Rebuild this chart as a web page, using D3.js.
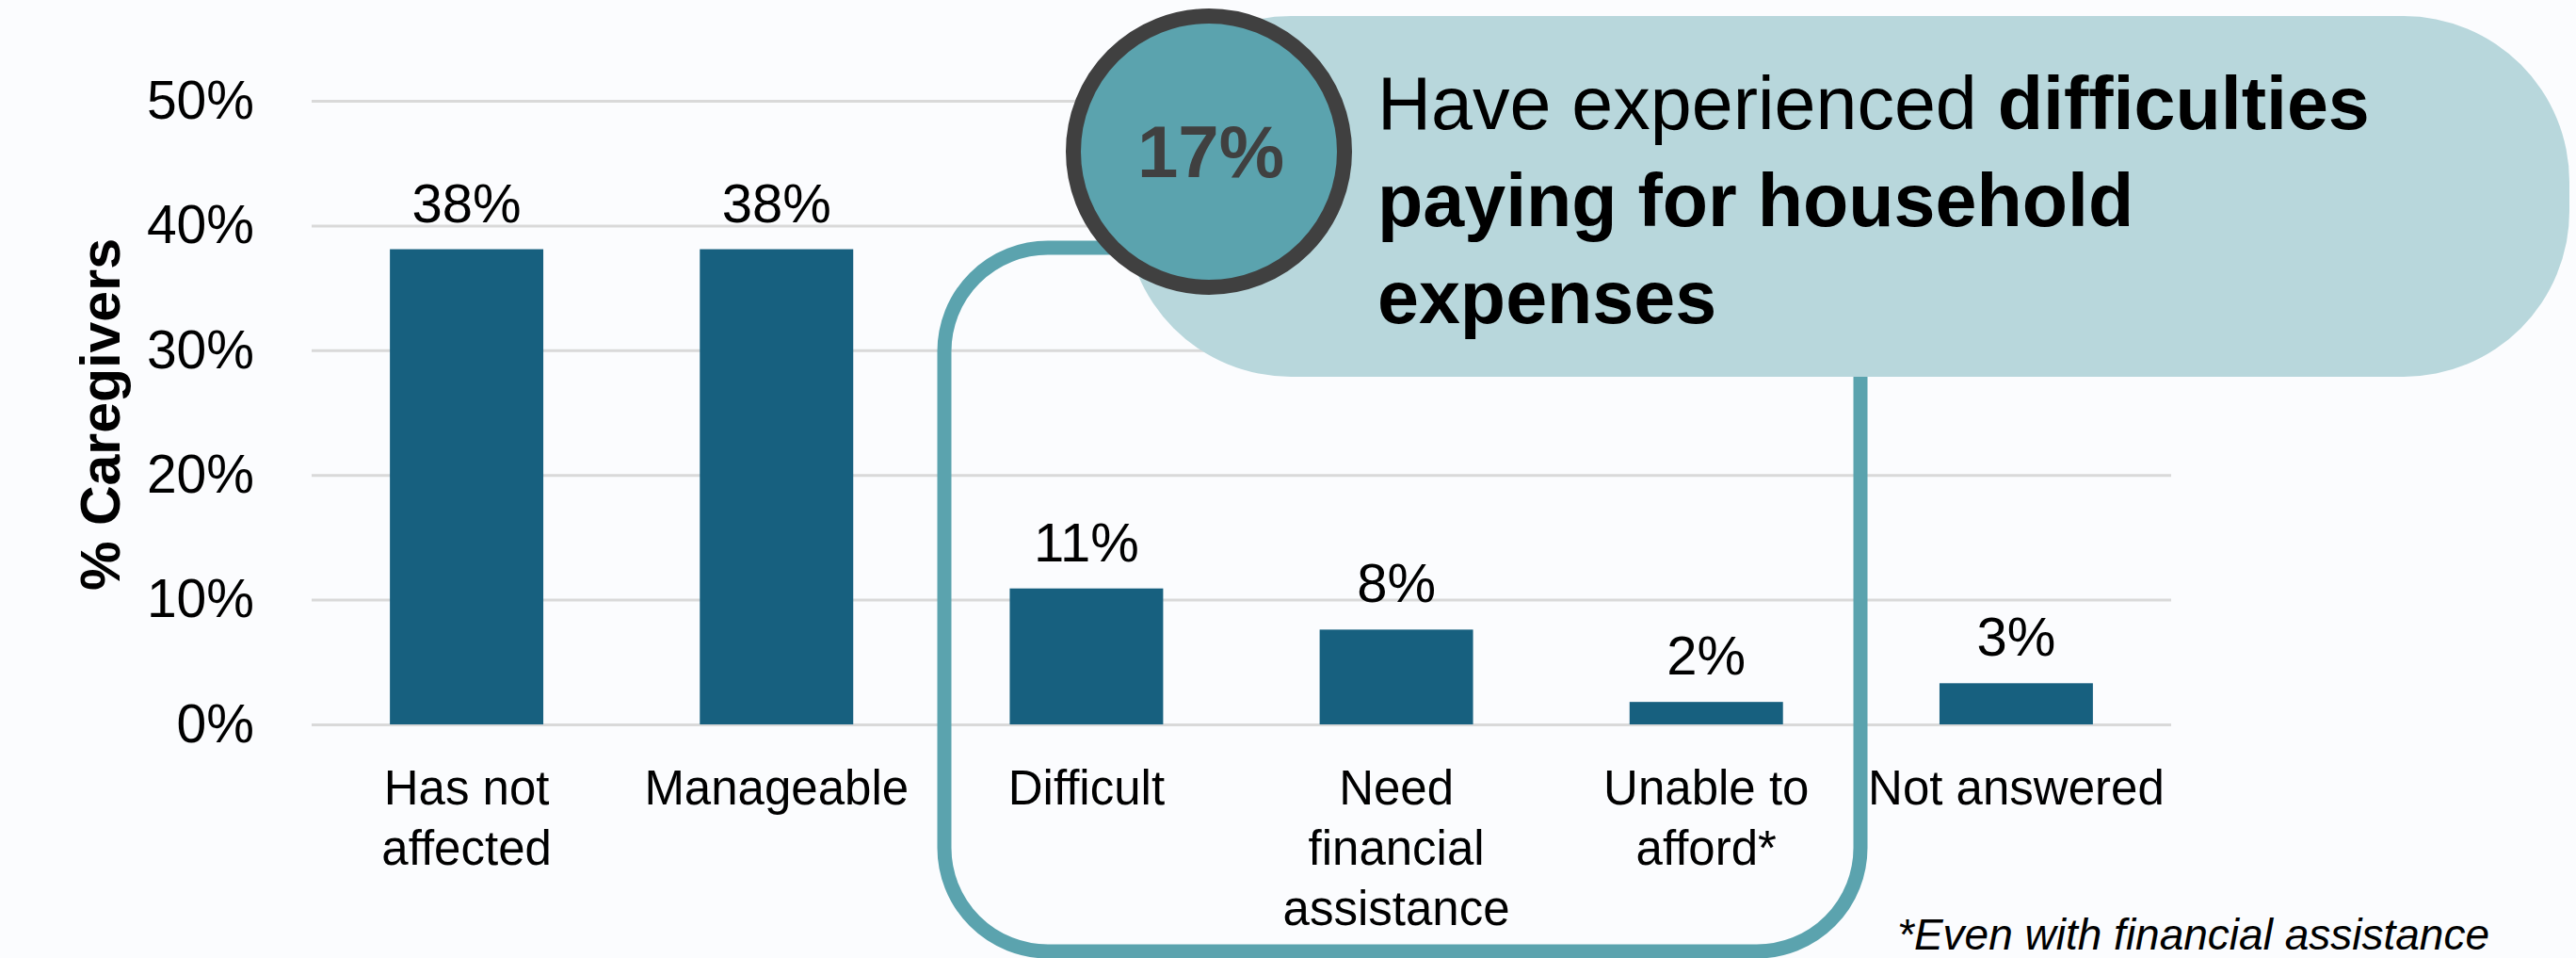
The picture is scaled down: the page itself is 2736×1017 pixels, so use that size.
<!DOCTYPE html>
<html>
<head>
<meta charset="utf-8">
<script src="https://cdn.jsdelivr.net/npm/d3@7"></script>
<style>
  html, body { margin: 0; padding: 0; background: #fbfcfe; }
  svg { display: block; font-family: "Liberation Sans", Arial, sans-serif; }
</style>
</head>
<body>
<div id="chart"></div>
<script>
"use strict";

// categories (one array entry per line of the axis label)
var categories = ["Has not affected", "Manageable", "Difficult", "Need financial assistance", "Unable to afford*", "Not answered"];
var categoryLines = [["Has not", "affected"], ["Manageable"], ["Difficult"], ["Need", "financial", "assistance"], ["Unable to", "afford*"], ["Not answered"]];
// % caregivers
var values = [38.1, 38.1, 10.9, 7.6, 1.8, 3.3];
var yTicks = [0, 10, 20, 30, 40, 50];

var calloutValue = "17%";
var calloutLines = [
  [{ t: "Have experienced ", b: false }, { t: "difficulties", b: true }],
  [{ t: "paying for household", b: true }],
  [{ t: "expenses", b: true }]
];
var footnote = "*Even with financial assistance";

var W = 2736, H = 1017;
var margin = { top: 107, right: 430, bottom: 248, left: 331 };

var svg = d3.select("#chart").append("svg")
  .attr("width", W)
  .attr("height", H);

var x = d3.scaleBand()
  .domain(categories)
  .range([margin.left, W - margin.right])
  .paddingInner(0.505)
  .paddingOuter(0.2525);

var y = d3.scaleLinear()
  .domain([0, 50])
  .range([H - margin.bottom, margin.top]);

// y axis + gridlines
var yAxis = svg.append("g")
  .attr("transform", "translate(" + margin.left + ",0)")
  .call(d3.axisLeft(y)
    .tickValues(yTicks)
    .tickSize(-(W - margin.right - margin.left))
    .tickPadding(61)
    .tickFormat(function(d) { return d + "%"; }));
yAxis.select(".domain").remove();
yAxis.selectAll(".tick line").attr("stroke", "#d9d9d9").attr("stroke-width", 3);
yAxis.selectAll(".tick text")
  .attr("font-size", 57)
  .attr("font-family", "Liberation Sans, Arial, sans-serif")
  .attr("fill", "#000");

// axis title
svg.append("text")
  .attr("transform", "translate(127,440) rotate(-90)")
  .attr("text-anchor", "middle")
  .attr("font-size", 59)
  .attr("font-weight", "bold")
  .attr("fill", "#000")
  .text("% Caregivers");

// bars
svg.selectAll("rect.bar")
  .data(values)
  .enter()
  .append("rect")
  .attr("class", "bar")
  .attr("x", function(d, i) { return x(categories[i]); })
  .attr("width", x.bandwidth())
  .attr("y", function(d) { return y(d); })
  .attr("height", function(d) { return y(0) - y(d); })
  .attr("fill", "#17607f");

// value labels
svg.selectAll("text.val")
  .data(values)
  .enter()
  .append("text")
  .attr("class", "val")
  .attr("x", function(d, i) { return x(categories[i]) + x.bandwidth() / 2; })
  .attr("y", function(d) { return y(d) - 29; })
  .attr("text-anchor", "middle")
  .attr("font-size", 58)
  .attr("fill", "#000")
  .text(function(d) { return Math.round(d) + "%"; });

// x axis labels
var xAxis = svg.append("g")
  .attr("transform", "translate(0," + y(0) + ")")
  .call(d3.axisBottom(x).tickSize(0).tickPadding(0));
xAxis.select(".domain").remove();
xAxis.selectAll(".tick text").each(function(d, i) {
  var t = d3.select(this).text(null)
    .attr("font-size", 51)
    .attr("font-family", "Liberation Sans, Arial, sans-serif")
    .attr("fill", "#000")
    .attr("y", 0)
    .attr("dy", null);
  categoryLines[i].forEach(function(line, k) {
    t.append("tspan").attr("x", 0).attr("y", 85 + k * 64).text(line);
  });
});

// bracket around the difficulty bars
svg.append("rect")
  .attr("x", 1003)
  .attr("y", 263)
  .attr("width", 973)
  .attr("height", 747)
  .attr("rx", 110)
  .attr("fill", "none")
  .attr("stroke", "#5ba3ae")
  .attr("stroke-width", 15);

// callout
svg.append("rect")
  .attr("x", 1195)
  .attr("y", 17)
  .attr("width", 1534)
  .attr("height", 383)
  .attr("rx", 176)
  .attr("fill", "#b8d7dc");

svg.append("circle")
  .attr("cx", 1284)
  .attr("cy", 161)
  .attr("r", 144)
  .attr("fill", "#5ba3ae")
  .attr("stroke", "#404040")
  .attr("stroke-width", 16);

svg.append("text")
  .attr("x", 1286)
  .attr("y", 188)
  .attr("text-anchor", "middle")
  .attr("font-size", 78)
  .attr("font-weight", "bold")
  .attr("fill", "#404040")
  .text(calloutValue);

var ct = svg.append("text")
  .attr("font-size", 79)
  .attr("fill", "#000");
calloutLines.forEach(function(parts, k) {
  parts.forEach(function(p, j) {
    var ts = ct.append("tspan")
      .attr("font-weight", p.b ? "bold" : "normal")
      .attr("xml:space", "preserve")
      .text(p.t);
    if (j === 0) ts.attr("x", 1463).attr("y", 137 + k * 103);
  });
});

// footnote
svg.append("text")
  .attr("x", 2015)
  .attr("y", 1008)
  .attr("font-size", 46)
  .attr("font-style", "italic")
  .attr("fill", "#000")
  .text(footnote);
</script>
</body>
</html>
